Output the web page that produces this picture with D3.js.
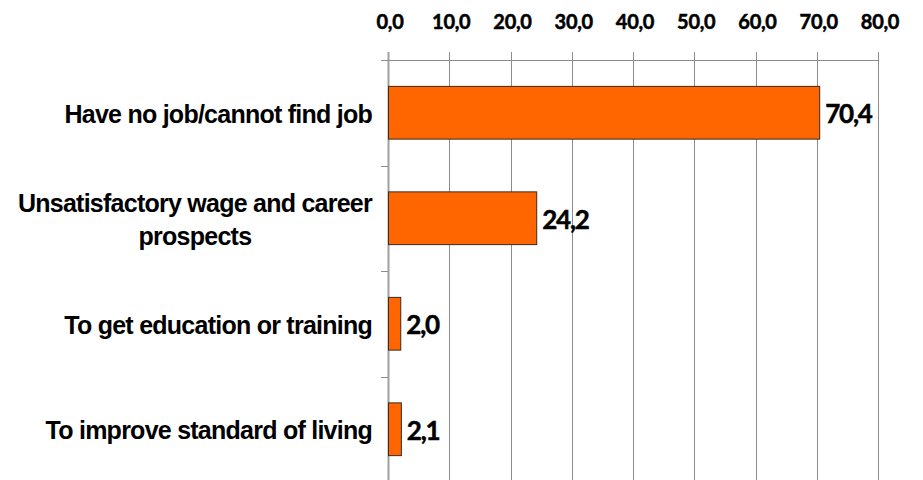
<!DOCTYPE html>
<html>
<head>
<meta charset="utf-8">
<script src="https://cdn.jsdelivr.net/npm/d3@7"></script>
<style>
  body { margin: 0; background: #fff; }
  .cat { font-family: "Liberation Sans", Arial, sans-serif; font-weight: bold; font-size: 25px; letter-spacing: -0.75px; fill: #000; }
  .num { font-family: Lato, "Open Sans", sans-serif; font-weight: bold; fill: #000; stroke: #000; stroke-width: 0.5px; }
</style>
</head>
<body>
<div id="chart"></div>
<script>
// chart data
var categories = ["Have no job/cannot find job", "Unsatisfactory wage and career prospects", "To get education or training", "To improve standard of living"];
var values = [70.4, 24.2, 2.0, 2.1];
var tickValues = [0, 10, 20, 30, 40, 50, 60, 70, 80];

// note: "top" is taken by window.top, so use plot* names
var width = 923,
    height = 480,
    plotLeft = 388,
    plotRight = 878,
    plotTop = 60,
    plotBottom = 482;

var fmt = function(d) { return d3.format(".1f")(d).replace(".", ","); };

var svg = d3.select("#chart")
  .append("svg")
    .attr("width", width)
    .attr("height", height);

var x = d3.scaleLinear()
  .domain([0, 80])
  .range([plotLeft, plotRight]);

var y = d3.scaleBand()
  .domain(categories)
  .range([plotTop, plotBottom])
  .paddingInner(0.5)
  .paddingOuter(0.25);

// band boundaries for the small ticks on the left
var band = (plotBottom - plotTop) / categories.length;

// vertical gridlines + top ticks
svg.selectAll("line.grid")
  .data(tickValues)
  .enter()
  .append("line")
    .attr("class", "grid")
    .attr("x1", function(d) { return Math.round(x(d)) + 0.5; })
    .attr("x2", function(d) { return Math.round(x(d)) + 0.5; })
    .attr("y1", plotTop - 8)
    .attr("y2", plotBottom)
    .attr("stroke", function(d) { return d == 0 ? "#a0a0a0" : "#8c8c8c"; })
    .attr("stroke-width", function(d) { return d == 0 ? 2 : 1; });

// top axis line
svg.append("line")
  .attr("x1", plotLeft - 7)
  .attr("x2", plotRight + 0.5)
  .attr("y1", plotTop + 0.5)
  .attr("y2", plotTop + 0.5)
  .attr("stroke", "#8c8c8c");

// tick labels
svg.selectAll("text.tick")
  .data(tickValues)
  .enter()
  .append("text")
    .attr("class", "num")
    .attr("x", function(d) { return x(d) + 2; })
    .attr("y", 29)
    .attr("text-anchor", "middle")
    .style("font-size", "20px")
    .style("letter-spacing", "-0.3px")
    .text(fmt);

// left ticks between categories
svg.selectAll("line.ytick")
  .data(d3.range(1, categories.length + 1))
  .enter()
  .append("line")
    .attr("x1", plotLeft - 7)
    .attr("x2", plotLeft)
    .attr("y1", function(i) { return Math.round(plotTop + i * band) + 0.5; })
    .attr("y2", function(i) { return Math.round(plotTop + i * band) + 0.5; })
    .attr("stroke", "#8c8c8c");

// bars
svg.selectAll("rect.bar")
  .data(values)
  .enter()
  .append("rect")
    .attr("x", x(0) + 0.5)
    .attr("y", function(d, i) { return y(categories[i]); })
    .attr("width", function(d) { return x(d) - x(0); })
    .attr("height", y.bandwidth())
    .attr("fill", "#ff6600")
    .attr("stroke", "#3a2a20")
    .attr("stroke-width", 1);

// value labels
svg.selectAll("text.val")
  .data(values)
  .enter()
  .append("text")
    .attr("class", "num")
    .attr("x", function(d) { return x(d) + 6; })
    .attr("y", function(d, i) { return y(categories[i]) + y.bandwidth() / 2 + 1; })
    .attr("dy", "0.36em")
    .style("font-size", "26px")
    .style("letter-spacing", "-1.2px")
    .text(fmt);

// category labels, wrapped and centered as a block
var maxW = 362;
categories.forEach(function(c, i) {
  var g = svg.append("g");
  var words = c.split(" ");
  var lines = [];
  var line = [];
  var probe = g.append("text").attr("class", "cat");
  words.forEach(function(w) {
    line.push(w);
    probe.text(line.join(" "));
    if (probe.node().getComputedTextLength() > maxW && line.length > 1) {
      line.pop();
      lines.push(line.join(" "));
      line = [w];
    }
  });
  lines.push(line.join(" "));
  probe.remove();

  var lh = 33;
  var cy = y(c) + y.bandwidth() / 2 + 1;
  var widths = [];
  var t = g.append("text").attr("class", "cat");
  lines.forEach(function(l, j) {
    var ts = t.append("tspan")
      .attr("y", cy + (j - (lines.length - 1) / 2) * lh)
      .attr("dy", "0.36em")
      .text(l);
    widths.push(ts.node().getComputedTextLength());
  });
  var bw = d3.max(widths);
  var cx = 372 - bw / 2;
  t.attr("text-anchor", "middle");
  t.selectAll("tspan").attr("x", cx);
});
</script>
</body>
</html>
